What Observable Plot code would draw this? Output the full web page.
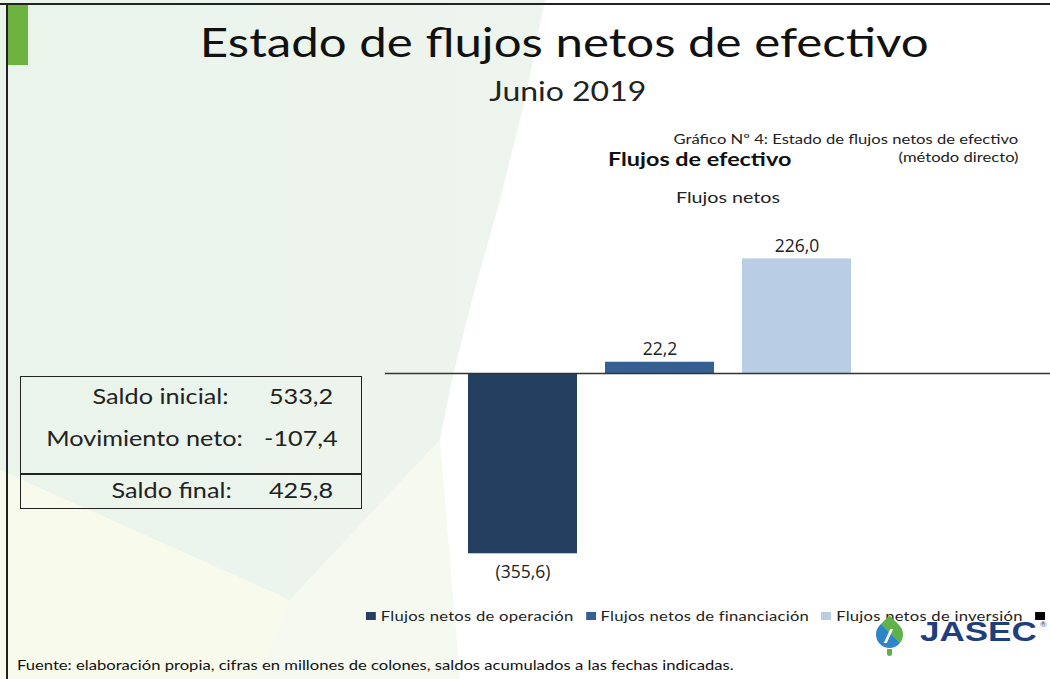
<!DOCTYPE html>
<html>
<head>
<meta charset="utf-8">
<script src="https://cdn.jsdelivr.net/npm/d3@7"></script>
<script src="https://cdn.jsdelivr.net/npm/@observablehq/plot@0.6"></script>
<style>
  html, body { margin: 0; padding: 0; }
  body { width: 1050px; height: 679px; position: relative; overflow: hidden; background: #ffffff; font-family: Lato, "Open Sans", sans-serif; color: #1a1a1a; }
  .abs { position: absolute; white-space: nowrap; }
  .sx { display: inline-block; transform: scaleX(1.23); }
  #bg1 { left: 0; top: 0; width: 1050px; height: 679px; background: linear-gradient(90deg, #ebf4eb 0%, #edf5ee 60%, #f2f8f1 100%);
         clip-path: polygon(0 0, 545px 0, 525px 100px, 500px 200px, 472px 300px, 452px 380px, 440px 440px, 290px 600px, 0 600px); }
  #bg2 { left: 0; top: 0; width: 1050px; height: 679px; background: #f8faec;
         clip-path: polygon(0 470px, 290px 600px, 255px 679px, 0 679px); }
  #bg3 { left: 0; top: 0; width: 1050px; height: 679px; background: #f5f9f0;
         clip-path: polygon(290px 600px, 440px 440px, 460px 679px, 255px 679px); }
  #frameTop { left: 0; top: 3px; width: 1050px; height: 2px; background: #222; }
  #frameLeft { left: 6px; top: 3px; width: 2px; height: 676px; background: #222; }
  #greenTab { left: 8px; top: 5px; width: 20px; height: 60px; background: #6db33f; }
  #title { left: 0; width: 1128px; top: 18px; text-align: center; font-size: 40px; font-weight: 400; color: #111; }
  #title .sx, #subtitle .sx { transform-origin: center; }
  #subtitle { left: 0; width: 1136px; top: 75px; text-align: center; font-size: 26px; color: #222; }
  #gnum { right: 32px; top: 131px; font-size: 13.5px; text-align: right; color: #222; }
  #gmet { right: 32px; top: 149px; font-size: 13.5px; text-align: right; color: #222; }
  #gnum .sx, #gmet .sx { transform-origin: right; }
  #fe { left: 608px; top: 147px; font-size: 19px; font-weight: 700; color: #111; }
  #fn { left: 676px; top: 187px; font-size: 16px; color: #222; }
  #fe .sx, #fn .sx, #foot .sx, #legend .sx { transform-origin: left; }
  #chart { left: 385px; top: 230px; }
  #tbl { left: 20px; top: 376px; width: 340px; height: 131px; border: 1.5px solid #222; }
  .trow { position: absolute; left: 0; width: 340px; font-size: 20.5px; color: #222; }
  .tlab { position: absolute; white-space: nowrap; }
  .tlab .sx { transform-origin: right; }
  .tval { position: absolute; left: 220px; width: 120px; text-align: center; white-space: nowrap; }
  .tval .sx { transform-origin: center; }
  #tline { position: absolute; left: 0; top: 96px; width: 340px; height: 1.5px; background: #222; }
  #legend { left: 366px; top: 607px; font-size: 13.5px; color: #222; }
  .lg { display: inline-flex; align-items: center; margin-right: 10px; letter-spacing: 0.2px; }
  .sw { width: 8px; height: 8px; margin-right: 4px; }
  #foot { left: 17px; top: 657px; font-size: 13.5px; color: #111; }
  #logo { left: 874px; top: 613px; width: 176px; height: 46px; }
  #drop { position: absolute; left: 2px; top: 8px; width: 27px; height: 27px; border-radius: 50% 0 50% 50%; transform: rotate(-45deg);
          background: linear-gradient(90deg, #2d84c6 0%, #2d84c6 55%, #5fb24a 55%, #5fb24a 100%); }
  #bolt { position: absolute; left: 13px; top: 16px; width: 3px; height: 14px; background: #ffffff; transform: skewX(-25deg); }
  #stem { position: absolute; left: 13px; top: 36px; width: 5px; height: 7px; background: #5fb24a; border-radius: 0 0 3px 3px; }
  #jasec { position: absolute; left: 46px; top: 3px; font-family: "Liberation Sans", Arial, sans-serif; font-weight: 700; font-size: 28px; color: #1f3f7c; transform: scaleX(1.25); transform-origin: left; }
  #reg { position: absolute; left: 166px; top: 6px; font-size: 8px; color: #1f3f7c; }
</style>
</head>
<body>
<div id="bg1" class="abs"></div>
<div id="bg2" class="abs"></div>
<div id="bg3" class="abs"></div>
<div id="frameTop" class="abs"></div>
<div id="frameLeft" class="abs"></div>
<div id="greenTab" class="abs"></div>
<div id="title" class="abs"></div>
<div id="subtitle" class="abs"></div>
<div id="gnum" class="abs"></div>
<div id="gmet" class="abs"></div>
<div id="fe" class="abs"></div>
<div id="fn" class="abs"></div>
<div id="chart" class="abs"></div>
<div id="tbl" class="abs"></div>
<div id="legend" class="abs"></div>
<div id="foot" class="abs"></div>
<div id="logo" class="abs"><div id="stem"></div><div id="drop"></div><div id="bolt"></div><div id="jasec">JASEC</div><div id="reg">®</div></div>
<script>
// ---- data ----
const titleText = "Estado de flujos netos de efectivo";
const subtitleText = "Junio 2019";
const chartNumber = "Gráfico Nº 4: Estado de flujos netos de efectivo";
const chartMethod = "(método directo)";
const chartHeading = "Flujos de efectivo";
const chartSubheading = "Flujos netos";
const categories = ["Flujos netos de operación", "Flujos netos de financiación", "Flujos netos de inversión", "Movimiento neto"];
const legendLabels = ["Flujos netos de operación", "Flujos netos de financiación", "Flujos netos de inversión", ""];
const values = [-355.6, 22.2, 226.0, null];
const colors = ["#253f61", "#365f92", "#b9cde5", "#000000"];
const tableLabels = ["Saldo inicial:", "Movimiento neto:", "Saldo final:"];
const tableValues = ["533,2", "-107,4", "425,8"];
const footnote = "Fuente: elaboración propia, cifras en millones de colones, saldos acumulados a las fechas indicadas.";

// ---- text helpers ----
function setText(id, txt) {
  const el = document.getElementById(id);
  const s = document.createElement("span");
  s.className = "sx";
  s.textContent = txt;
  el.appendChild(s);
}
setText("title", titleText);
setText("subtitle", subtitleText);
setText("gnum", chartNumber);
setText("gmet", chartMethod);
setText("fe", chartHeading);
setText("fn", chartSubheading);
setText("foot", footnote);

// ---- table ----
const tbl = document.getElementById("tbl");
const rowTops = [7, 49, 101];
const rowRights = [133, 118, 129];
tableLabels.forEach((l, i) => {
  const r = document.createElement("div");
  r.className = "trow";
  r.style.top = rowTops[i] + "px";
  r.innerHTML = `<span class="tlab"><span class="sx"></span></span><span class="tval"><span class="sx"></span></span>`;
  r.querySelector(".tlab").style.right = rowRights[i] + "px";
  r.querySelector(".tlab .sx").textContent = l;
  r.querySelector(".tval .sx").textContent = tableValues[i];
  tbl.appendChild(r);
});
const tl = document.createElement("div"); tl.id = "tline"; tbl.appendChild(tl);

// ---- legend ----
const leg = document.getElementById("legend");
const legInner = document.createElement("span");
legInner.className = "sx";
categories.forEach((c, i) => {
  const d = document.createElement("span");
  d.className = "lg";
  d.innerHTML = `<span class="sw" style="background:${colors[i]}"></span><span></span>`;
  d.lastChild.textContent = legendLabels[i];
  legInner.appendChild(d);
});
leg.appendChild(legInner);

// ---- chart ----
const data = categories.map((c, i) => ({cat: c, value: values[i]})).filter(d => d.value != null);
const fmt = v => {
  const s = Math.abs(v).toFixed(1).replace(".", ",");
  return v < 0 ? `(${s})` : s;
};
const pxPerUnit = 0.507;
const zeroY = 143;
const chart = Plot.plot({
  width: 665,
  height: 360,
  marginLeft: 0, marginRight: 0, marginTop: 0, marginBottom: 0,
  style: {background: "transparent", overflow: "visible", fontFamily: "'Open Sans', Lato, sans-serif"},
  x: {axis: null, domain: categories, range: [68, 618], paddingInner: 0.207, paddingOuter: 0.1035},
  y: {axis: null, domain: [-400, 300], range: [zeroY + 400 * pxPerUnit, zeroY - 300 * pxPerUnit]},
  color: {domain: categories, range: colors},
  marks: [
    Plot.barY(data, {x: "cat", y: "value", fill: "cat"}),
    Plot.ruleY([0], {stroke: "#333", strokeWidth: 1.6}),
    Plot.text(data.filter(d => d.value >= 0), {x: "cat", y: "value", text: d => fmt(d.value), lineAnchor: "bottom", dy: -7, fontSize: 17.5, fill: "#222"}),
    Plot.text(data.filter(d => d.value < 0), {x: "cat", y: "value", text: d => fmt(d.value), lineAnchor: "top", dy: 12, fontSize: 17.5, fill: "#222"})
  ]
});
document.getElementById("chart").appendChild(chart);
</script>
</body>
</html>
